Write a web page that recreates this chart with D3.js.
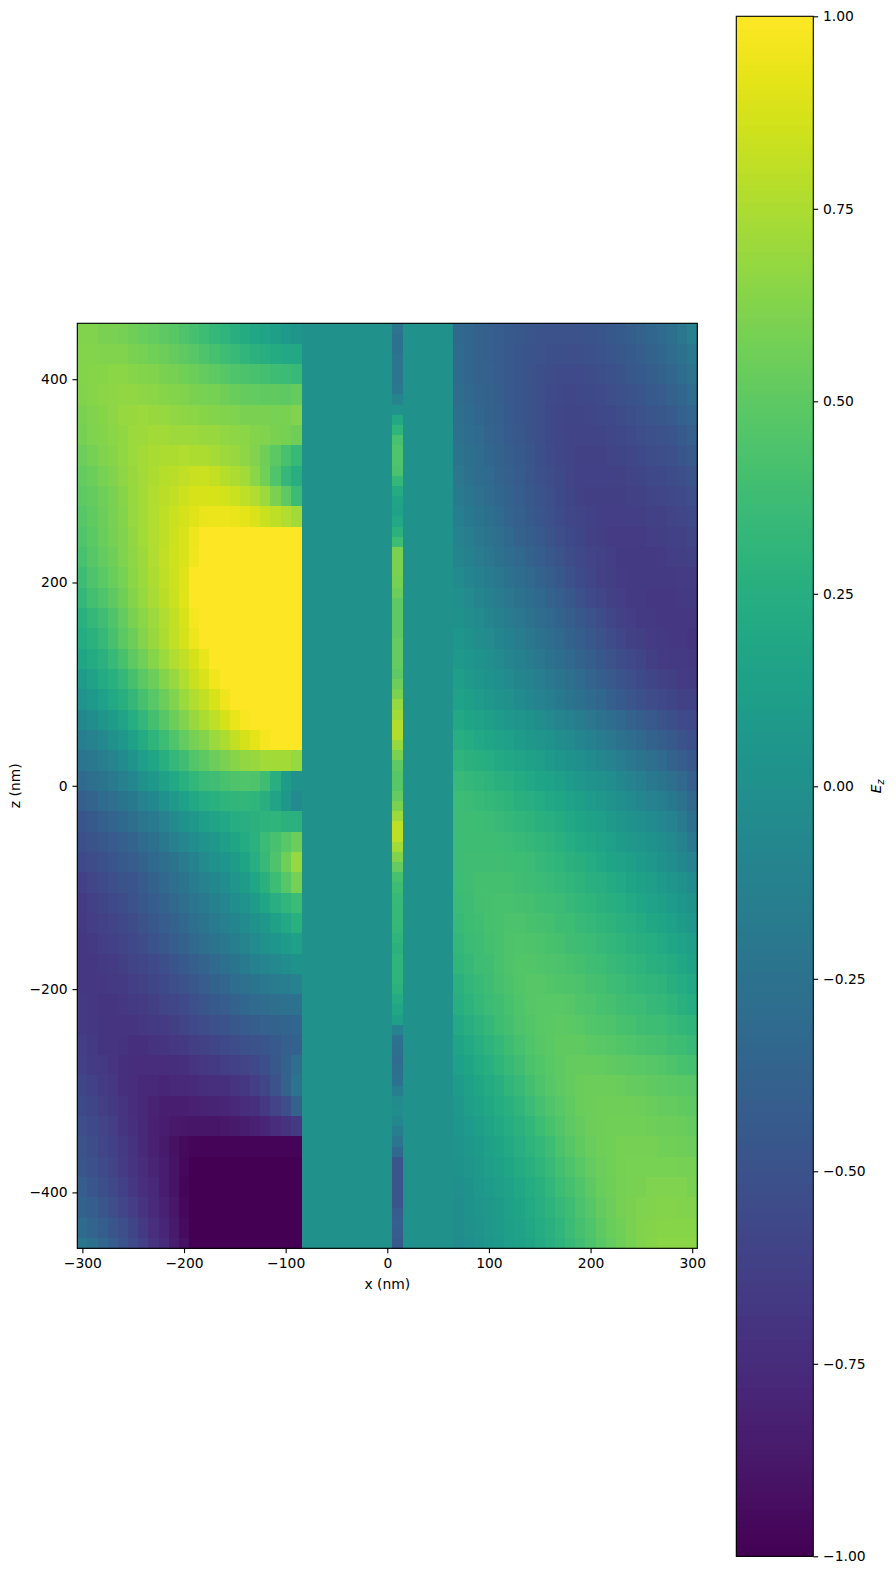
<!DOCTYPE html>
<html>
<head>
<meta charset="utf-8">
<style>
html,body{margin:0;padding:0;background:#fff;}
svg{display:block;}
text{font-family:"DejaVu Sans",sans-serif;font-size:13.89px;fill:#000;}
</style>
<script src="https://cdn.jsdelivr.net/npm/d3@7"></script>
</head>
<body>
<div id="chart"></div>
<script>
const xTicks = [-300,-200,-100,0,100,200,300];
const zTicks = [-400,-200,0,200,400];
const cbarTicks = [-1,-0.75,-0.5,-0.25,0,0.25,0.5,0.75,1];

// E_z left of the film, x = -300..-90 (10 nm columns), z rows of 20 nm from the top
const leftField = [
[.62,.62,.60,.60,.58,.56,.54,.52,.50,.47,.44,.41,.37,.33,.30,.26,.22,.19,.16,.12,.08,.05],
[.63,.63,.62,.62,.62,.60,.58,.57,.55,.53,.50,.47,.44,.41,.38,.35,.31,.28,.25,.22,.20,.20],
[.63,.64,.64,.65,.65,.64,.63,.62,.60,.58,.57,.55,.52,.50,.47,.45,.43,.42,.40,.38,.36,.35],
[.62,.64,.65,.66,.67,.67,.66,.65,.64,.63,.62,.60,.59,.58,.56,.54,.53,.52,.51,.51,.50,.53],
[.60,.62,.64,.66,.68,.69,.70,.69,.68,.67,.66,.65,.64,.63,.62,.61,.60,.60,.60,.59,.60,.62],
[.58,.61,.63,.65,.67,.70,.71,.72,.72,.71,.71,.70,.69,.69,.67,.66,.65,.63,.62,.60,.58,.56],
[.55,.58,.61,.64,.67,.70,.72,.74,.75,.75,.76,.75,.75,.73,.71,.69,.66,.62,.56,.49,.42,.35],
[.52,.55,.59,.62,.66,.69,.72,.75,.78,.79,.81,.83,.84,.82,.78,.75,.72,.65,.57,.45,.33,.25],
[.50,.53,.56,.60,.64,.68,.72,.76,.79,.82,.85,.88,.88,.88,.86,.84,.80,.76,.70,.60,.50,.36],
[.47,.51,.55,.59,.63,.68,.72,.76,.80,.84,.87,.90,.93,.94,.94,.93,.92,.89,.84,.80,.76,.72],
[.45,.49,.54,.58,.62,.67,.72,.76,.80,.85,.89,.95,1,1,1,1,1,1,1,1,1,1],
[.42,.47,.52,.56,.61,.66,.71,.76,.81,.85,.89,.96,1,1,1,1,1,1,1,1,1,1],
[.38,.44,.49,.54,.59,.65,.70,.75,.80,.85,.90,1,1,1,1,1,1,1,1,1,1,1],
[.33,.40,.45,.50,.56,.63,.68,.74,.79,.84,.90,1,1,1,1,1,1,1,1,1,1,1],
[.27,.33,.39,.45,.52,.60,.65,.71,.76,.82,.88,.97,1,1,1,1,1,1,1,1,1,1],
[.23,.28,.34,.42,.49,.55,.63,.69,.75,.81,.87,.95,1,1,1,1,1,1,1,1,1,1],
[.18,.22,.28,.35,.42,.50,.57,.64,.70,.76,.81,.87,.93,1,1,1,1,1,1,1,1,1],
[.10,.15,.22,.27,.33,.41,.49,.55,.63,.69,.76,.83,.89,.96,1,1,1,1,1,1,1,1],
[.03,.08,.13,.20,.26,.33,.41,.48,.55,.62,.70,.76,.82,.88,.95,1,1,1,1,1,1,1],
[-.07,-.02,.04,.10,.16,.24,.32,.40,.47,.55,.62,.69,.75,.80,.87,.93,.98,1,1,1,1,1],
[-.15,-.11,-.06,0,.07,.14,.22,.30,.37,.45,.52,.58,.63,.70,.75,.81,.87,.92,.97,1,1,1],
[-.22,-.20,-.16,-.10,-.04,.03,.11,.18,.26,.33,.39,.46,.50,.55,.60,.64,.67,.69,.72,.72,.72,.68],
[-.32,-.28,-.24,-.18,-.14,-.08,0,.06,.14,.20,.27,.32,.36,.39,.42,.44,.45,.44,.38,.25,.10,0],
[-.40,-.36,-.32,-.28,-.24,-.19,-.12,-.07,0,.08,.13,.20,.24,.27,.30,.31,.32,.30,.26,.16,.06,-.05],
[-.47,-.44,-.40,-.36,-.33,-.28,-.22,-.18,-.11,-.05,.02,.07,.12,.16,.20,.24,.25,.28,.29,.30,.28,.28],
[-.52,-.49,-.46,-.43,-.40,-.36,-.31,-.27,-.20,-.14,-.08,-.02,.03,.07,.12,.17,.22,.28,.36,.42,.48,.55],
[-.56,-.54,-.51,-.48,-.45,-.42,-.38,-.33,-.28,-.23,-.17,-.11,-.05,0,.05,.10,.17,.25,.34,.44,.56,.68],
[-.62,-.58,-.55,-.53,-.50,-.47,-.43,-.38,-.33,-.28,-.23,-.17,-.12,-.07,-.02,.04,.10,.18,.27,.37,.47,.58],
[-.65,-.62,-.59,-.56,-.54,-.50,-.46,-.42,-.38,-.33,-.28,-.22,-.18,-.13,-.08,-.03,.03,.10,.18,.25,.31,.36],
[-.66,-.64,-.62,-.60,-.57,-.54,-.50,-.46,-.42,-.37,-.33,-.28,-.23,-.18,-.14,-.09,-.04,.02,.07,.14,.20,.27],
[-.68,-.66,-.64,-.62,-.60,-.57,-.54,-.50,-.46,-.42,-.37,-.33,-.28,-.24,-.20,-.15,-.10,-.04,0,.05,.10,.14],
[-.68,-.68,-.67,-.65,-.63,-.60,-.58,-.55,-.52,-.48,-.44,-.40,-.36,-.32,-.27,-.23,-.18,-.13,-.10,-.06,-.02,.02],
[-.68,-.68,-.68,-.67,-.66,-.64,-.61,-.59,-.56,-.53,-.49,-.46,-.42,-.38,-.34,-.30,-.26,-.23,-.20,-.17,-.15,-.12],
[-.67,-.68,-.69,-.69,-.68,-.67,-.65,-.63,-.60,-.58,-.55,-.51,-.48,-.44,-.42,-.38,-.34,-.32,-.30,-.28,-.26,-.25],
[-.66,-.68,-.69,-.70,-.70,-.70,-.68,-.66,-.65,-.63,-.60,-.57,-.54,-.51,-.49,-.46,-.43,-.41,-.39,-.37,-.36,-.34],
[-.64,-.66,-.69,-.70,-.71,-.72,-.72,-.71,-.70,-.68,-.66,-.63,-.61,-.59,-.56,-.54,-.51,-.50,-.47,-.44,-.40,-.37],
[-.62,-.65,-.67,-.70,-.72,-.74,-.75,-.75,-.75,-.74,-.72,-.70,-.68,-.66,-.64,-.62,-.60,-.57,-.52,-.46,-.38,-.28],
[-.59,-.62,-.65,-.68,-.72,-.75,-.77,-.78,-.79,-.78,-.77,-.76,-.74,-.73,-.72,-.70,-.68,-.64,-.58,-.50,-.38,-.24],
[-.56,-.59,-.63,-.66,-.70,-.75,-.78,-.81,-.83,-.83,-.83,-.82,-.81,-.80,-.79,-.78,-.75,-.72,-.67,-.60,-.52,-.38],
[-.53,-.56,-.60,-.64,-.69,-.73,-.78,-.82,-.85,-.87,-.88,-.89,-.89,-.89,-.87,-.86,-.85,-.82,-.79,-.75,-.71,-.66],
[-.50,-.54,-.58,-.62,-.67,-.71,-.77,-.82,-.86,-.91,-.95,-.97,-.98,-.98,-.98,-.98,-.98,-.98,-.98,-.98,-.98,-.98],
[-.47,-.51,-.55,-.60,-.65,-.70,-.75,-.80,-.85,-.90,-.96,-1,-1,-1,-1,-1,-1,-1,-1,-1,-1,-1],
[-.42,-.47,-.52,-.57,-.62,-.68,-.73,-.78,-.84,-.90,-.97,-1,-1,-1,-1,-1,-1,-1,-1,-1,-1,-1],
[-.37,-.42,-.47,-.53,-.58,-.64,-.70,-.76,-.82,-.88,-.96,-1,-1,-1,-1,-1,-1,-1,-1,-1,-1,-1],
[-.31,-.36,-.41,-.47,-.53,-.59,-.66,-.73,-.79,-.86,-.94,-1,-1,-1,-1,-1,-1,-1,-1,-1,-1,-1],
[-.22,-.27,-.34,-.42,-.49,-.55,-.62,-.70,-.76,-.84,-.92,-1,-1,-1,-1,-1,-1,-1,-1,-1,-1,-1]
];

// E_z right of the film, x = 70..300 (10 nm columns), same 20 nm rows
const rightField = [
[-.33,-.35,-.37,-.40,-.42,-.44,-.46,-.48,-.49,-.50,-.50,-.50,-.50,-.49,-.48,-.46,-.44,-.41,-.38,-.35,-.31,-.27,-.21,-.14],
[-.32,-.34,-.37,-.40,-.42,-.45,-.47,-.49,-.50,-.52,-.52,-.53,-.52,-.51,-.50,-.48,-.46,-.44,-.41,-.37,-.34,-.30,-.25,-.19],
[-.31,-.34,-.37,-.39,-.42,-.45,-.48,-.50,-.52,-.54,-.55,-.55,-.55,-.54,-.52,-.51,-.49,-.46,-.44,-.41,-.38,-.34,-.29,-.24],
[-.30,-.33,-.36,-.38,-.41,-.45,-.48,-.50,-.53,-.55,-.57,-.58,-.57,-.56,-.55,-.53,-.51,-.49,-.47,-.44,-.42,-.38,-.34,-.29],
[-.28,-.31,-.34,-.37,-.40,-.44,-.47,-.50,-.53,-.56,-.58,-.59,-.59,-.58,-.57,-.56,-.54,-.52,-.50,-.48,-.46,-.43,-.39,-.35],
[-.26,-.29,-.32,-.36,-.39,-.43,-.46,-.49,-.53,-.56,-.58,-.60,-.60,-.60,-.59,-.58,-.57,-.55,-.53,-.51,-.50,-.47,-.44,-.40],
[-.24,-.27,-.30,-.34,-.38,-.41,-.45,-.48,-.52,-.55,-.58,-.60,-.61,-.61,-.61,-.60,-.59,-.58,-.56,-.54,-.53,-.51,-.48,-.45],
[-.21,-.25,-.29,-.32,-.36,-.40,-.43,-.47,-.51,-.54,-.57,-.60,-.62,-.62,-.62,-.62,-.61,-.60,-.59,-.57,-.56,-.54,-.52,-.49],
[-.18,-.22,-.26,-.30,-.34,-.38,-.42,-.46,-.49,-.53,-.56,-.59,-.61,-.63,-.63,-.63,-.63,-.62,-.61,-.60,-.58,-.57,-.55,-.53],
[-.15,-.19,-.23,-.27,-.31,-.36,-.40,-.44,-.47,-.51,-.55,-.58,-.60,-.62,-.64,-.64,-.64,-.64,-.63,-.62,-.61,-.60,-.58,-.56],
[-.12,-.16,-.20,-.24,-.28,-.33,-.37,-.41,-.45,-.49,-.53,-.56,-.59,-.61,-.63,-.65,-.65,-.65,-.65,-.64,-.63,-.62,-.61,-.59],
[-.09,-.13,-.17,-.21,-.25,-.29,-.33,-.37,-.42,-.46,-.50,-.54,-.57,-.60,-.62,-.64,-.66,-.66,-.66,-.66,-.65,-.64,-.63,-.62],
[-.05,-.09,-.13,-.17,-.21,-.25,-.29,-.33,-.37,-.41,-.46,-.51,-.55,-.58,-.61,-.63,-.65,-.66,-.67,-.67,-.67,-.66,-.65,-.65],
[-.01,-.05,-.09,-.13,-.17,-.21,-.25,-.29,-.33,-.37,-.42,-.46,-.51,-.55,-.58,-.61,-.64,-.66,-.67,-.68,-.68,-.68,-.67,-.67],
[.02,-.02,-.05,-.09,-.13,-.17,-.21,-.25,-.29,-.33,-.37,-.41,-.46,-.50,-.54,-.58,-.61,-.64,-.66,-.67,-.68,-.68,-.68,-.68],
[.05,.02,-.02,-.05,-.09,-.13,-.17,-.21,-.25,-.29,-.33,-.37,-.41,-.46,-.50,-.54,-.58,-.61,-.63,-.65,-.67,-.68,-.68,-.69],
[.08,.05,.02,-.01,-.05,-.09,-.13,-.17,-.21,-.25,-.29,-.33,-.37,-.41,-.46,-.50,-.54,-.57,-.60,-.63,-.65,-.66,-.67,-.68],
[.11,.08,.05,.02,-.01,-.05,-.09,-.12,-.16,-.20,-.24,-.28,-.32,-.36,-.41,-.45,-.49,-.53,-.56,-.59,-.61,-.63,-.65,-.66],
[.15,.12,.09,.06,.03,0,-.04,-.08,-.11,-.15,-.19,-.23,-.27,-.31,-.35,-.40,-.44,-.48,-.51,-.54,-.57,-.59,-.61,-.62],
[.20,.17,.15,.12,.10,.07,.04,.01,-.03,-.06,-.09,-.13,-.17,-.21,-.25,-.29,-.33,-.37,-.41,-.45,-.49,-.52,-.55,-.57],
[.25,.23,.20,.18,.15,.13,.10,.07,.04,.01,-.02,-.05,-.09,-.13,-.17,-.21,-.25,-.29,-.33,-.37,-.41,-.45,-.49,-.52],
[.30,.28,.26,.24,.21,.19,.16,.14,.11,.08,.05,.02,-.01,-.04,-.08,-.12,-.16,-.20,-.24,-.28,-.32,-.37,-.42,-.46],
[.35,.33,.31,.29,.27,.25,.22,.20,.17,.15,.12,.09,.06,.03,0,-.03,-.07,-.11,-.15,-.19,-.23,-.28,-.33,-.40],
[.37,.36,.35,.33,.31,.29,.27,.25,.23,.20,.18,.15,.12,.09,.06,.03,-.01,-.04,-.08,-.11,-.15,-.19,-.25,-.33],
[.38,.38,.37,.36,.35,.33,.31,.29,.27,.25,.22,.20,.17,.14,.11,.08,.05,.02,-.01,-.04,-.08,-.12,-.18,-.27],
[.38,.38,.38,.38,.37,.36,.35,.33,.31,.29,.27,.24,.21,.19,.16,.13,.10,.07,.04,.01,-.02,-.06,-.12,-.20],
[.38,.39,.39,.39,.39,.38,.37,.36,.34,.32,.30,.28,.26,.23,.20,.17,.15,.12,.09,.06,.02,-.02,-.07,-.12],
[.37,.39,.40,.40,.40,.40,.39,.38,.36,.35,.33,.31,.29,.27,.25,.22,.20,.17,.14,.11,.08,.04,0,-.04],
[.36,.38,.40,.41,.42,.42,.41,.40,.39,.37,.36,.34,.32,.30,.28,.26,.24,.21,.18,.15,.12,.09,.05,.02],
[.35,.37,.39,.41,.42,.43,.43,.42,.41,.40,.38,.37,.35,.33,.31,.29,.27,.25,.22,.19,.17,.13,.10,.07],
[.33,.36,.38,.40,.42,.44,.45,.44,.43,.42,.41,.39,.38,.36,.34,.32,.30,.28,.26,.24,.21,.18,.15,.11],
[.31,.34,.37,.39,.42,.44,.46,.46,.45,.44,.43,.42,.40,.39,.37,.35,.33,.31,.29,.27,.25,.22,.19,.15],
[.28,.32,.35,.38,.41,.43,.46,.47,.47,.46,.45,.44,.43,.41,.40,.38,.36,.34,.32,.31,.29,.26,.23,.20],
[.25,.29,.33,.36,.39,.42,.45,.47,.48,.48,.48,.47,.45,.44,.42,.41,.39,.37,.36,.34,.33,.30,.27,.24],
[.21,.25,.29,.33,.37,.40,.44,.46,.48,.49,.50,.49,.48,.46,.45,.44,.42,.41,.39,.38,.37,.35,.32,.30],
[.17,.21,.25,.29,.33,.38,.42,.45,.47,.49,.51,.51,.51,.49,.48,.47,.46,.45,.43,.42,.41,.39,.37,.35],
[.13,.17,.22,.26,.30,.35,.39,.43,.46,.48,.50,.52,.53,.53,.52,.51,.50,.49,.48,.47,.46,.44,.42,.41],
[.10,.14,.18,.22,.26,.31,.35,.40,.44,.47,.50,.52,.54,.55,.55,.55,.54,.53,.52,.51,.50,.49,.48,.47],
[.07,.11,.15,.19,.23,.27,.31,.36,.41,.45,.48,.51,.54,.55,.56,.56,.56,.56,.55,.54,.53,.52,.51,.50],
[.05,.09,.12,.16,.20,.24,.28,.32,.37,.42,.46,.50,.53,.55,.56,.57,.57,.57,.57,.56,.55,.55,.54,.53],
[.03,.06,.10,.13,.17,.21,.25,.29,.33,.38,.43,.47,.51,.54,.56,.57,.58,.58,.58,.58,.57,.57,.56,.55],
[.01,.04,.08,.11,.14,.18,.22,.26,.30,.35,.40,.44,.48,.52,.55,.57,.58,.59,.59,.59,.59,.59,.58,.58],
[-.01,.02,.06,.09,.12,.15,.19,.23,.27,.32,.37,.41,.45,.50,.54,.56,.58,.59,.60,.61,.61,.61,.61,.60],
[-.02,.01,.04,.07,.10,.13,.17,.21,.25,.29,.34,.38,.43,.47,.52,.55,.58,.60,.61,.62,.63,.63,.62,.62],
[-.03,0,.03,.06,.09,.12,.15,.19,.23,.27,.31,.36,.41,.45,.50,.54,.57,.60,.62,.63,.64,.64,.64,.64],
[-.04,-.01,.02,.05,.08,.11,.14,.17,.21,.25,.29,.34,.39,.43,.48,.52,.56,.59,.62,.64,.65,.65,.65,.65]
];

// E_z in the thin strip x = 5..15, z = 450..-450 in 10 nm rows
const stripField = [
-.22,-.25,-.25,-.22,-.22,-.22,-.20,-.10,.03,.20,.30,.42,.45,.45,.43,.33,.22,.17,.15,.20,.28,.38,
.60,.60,.60,.58,.55,.50,.50,.50,.50,.52,.52,.52,.50,.55,.60,.68,.72,.77,.77,.68,.60,.50,.47,.47,
.52,.60,.70,.80,.80,.72,.62,.52,.42,.38,.35,.34,.34,.33,.30,.28,.30,.30,.30,.28,.22,.18,.12,-.12,
-.25,-.28,-.30,-.28,-.25,-.15,-.05,-.03,-.07,-.15,-.22,-.33,-.48,-.48,-.48,-.48,-.47,-.42,-.40,-.42,-.45
];

// The two slabs hold E_z = 0: [xStart, xEnd, value]
const slabs = [[-85,5,0],[15,65,0]];

const W = 896, H = 1574;
const ax = {l:77.3, r:697.3, t:323.3, b:1248.3};
const cb = {l:736.3, r:813.3, t:16.3, b:1556.3};

const x = d3.scaleLinear().domain([-305,305]).range([ax.l, ax.r]);
const z = d3.scaleLinear().domain([-455,455]).range([ax.b, ax.t]);
const color = v => d3.interpolateViridis((Math.max(-1,Math.min(1,v))+1)/2);
const cbY = d3.scaleLinear().domain([-1,1]).range([cb.b, cb.t]);

const svg = d3.select('#chart').append('svg').attr('width',W).attr('height',H).attr('viewBox',`0 0 ${W} ${H}`);
const heat = svg.append('g').attr('shape-rendering','crispEdges');

function cell(x0,x1,z0,z1,v){
  heat.append('rect')
    .attr('x',x(x0)).attr('width',x(x1)-x(x0)+0.6)
    .attr('y',z(z0)).attr('height',z(z1)-z(z0)+0.6)
    .attr('fill',color(v));
}
function clampZ(v){return Math.max(-455,v);}

slabs.forEach(s=>cell(s[0],s[1],455,-455,s[2]));
leftField.forEach((row,i)=>{
  const top=455-20*i, bot=clampZ(top-20);
  row.forEach((v,j)=>{const a=-305+10*j; cell(a,a+10,top,bot,v);});
});
rightField.forEach((row,i)=>{
  const top=455-20*i, bot=clampZ(top-20);
  row.forEach((v,j)=>{const a=65+10*j; cell(a,a+10,top,bot,v);});
});
stripField.forEach((v,i)=>{const top=455-10*i; cell(5,15,top,top-10,v);});

const fmtInt = d => String(d).replace('-','\u2212');
const tickLen = 4.86, tickPad = 4.86, lw = 1.11;

function styleAxis(g){
  g.selectAll('.domain').remove();
  g.selectAll('.tick line').attr('stroke','#000').attr('stroke-width',lw);
  g.selectAll('.tick text').attr('font-family','"DejaVu Sans",sans-serif').attr('font-size',13.89).attr('fill','#000');
}

svg.append('g').attr('transform',`translate(0,${ax.b})`)
  .call(d3.axisBottom(x).tickValues(xTicks).tickFormat(fmtInt).tickSize(tickLen).tickPadding(tickPad)).call(styleAxis);
svg.append('g').attr('transform',`translate(${ax.l},0)`)
  .call(d3.axisLeft(z).tickValues(zTicks).tickFormat(fmtInt).tickSize(tickLen).tickPadding(tickPad)).call(styleAxis);

svg.append('rect').attr('x',ax.l).attr('y',ax.t).attr('width',ax.r-ax.l).attr('height',ax.b-ax.t)
  .attr('fill','none').attr('stroke','#000').attr('stroke-width',lw);

svg.append('text').attr('x',x(0)).attr('y',1289).attr('text-anchor','middle').text('x (nm)');
svg.append('text').attr('transform',`translate(20,${z(0)}) rotate(-90)`).attr('text-anchor','middle').text('z (nm)');

// Colour bar
const levels = d3.range(256).map(i=>-1+2*i/256);
const cbg = svg.append('g').attr('shape-rendering','crispEdges');
cbg.selectAll('rect').data(levels).join('rect')
  .attr('x',cb.l).attr('width',cb.r-cb.l)
  .attr('y',d=>cbY(d+2/256)).attr('height',d=>cbY(d)-cbY(d+2/256)+0.6)
  .attr('fill',d=>color(d+1/256));
svg.append('rect').attr('x',cb.l).attr('y',cb.t).attr('width',cb.r-cb.l).attr('height',cb.b-cb.t)
  .attr('fill','none').attr('stroke','#000').attr('stroke-width',lw);
svg.append('g').attr('transform',`translate(${cb.r},0)`)
  .call(d3.axisRight(cbY).tickValues(cbarTicks).tickFormat(d=>fmtInt(d3.format('.2f')(d))).tickSize(tickLen).tickPadding(tickPad)).call(styleAxis);

const ez = svg.append('text').attr('transform',`translate(881,${cbY(0)}) rotate(-90)`).attr('text-anchor','middle');
ez.append('tspan').attr('font-style','italic').text('E');
ez.append('tspan').attr('font-style','italic').attr('dy',2.5).style('font-size','9.7px').text('z');
</script>
</body>
</html>
